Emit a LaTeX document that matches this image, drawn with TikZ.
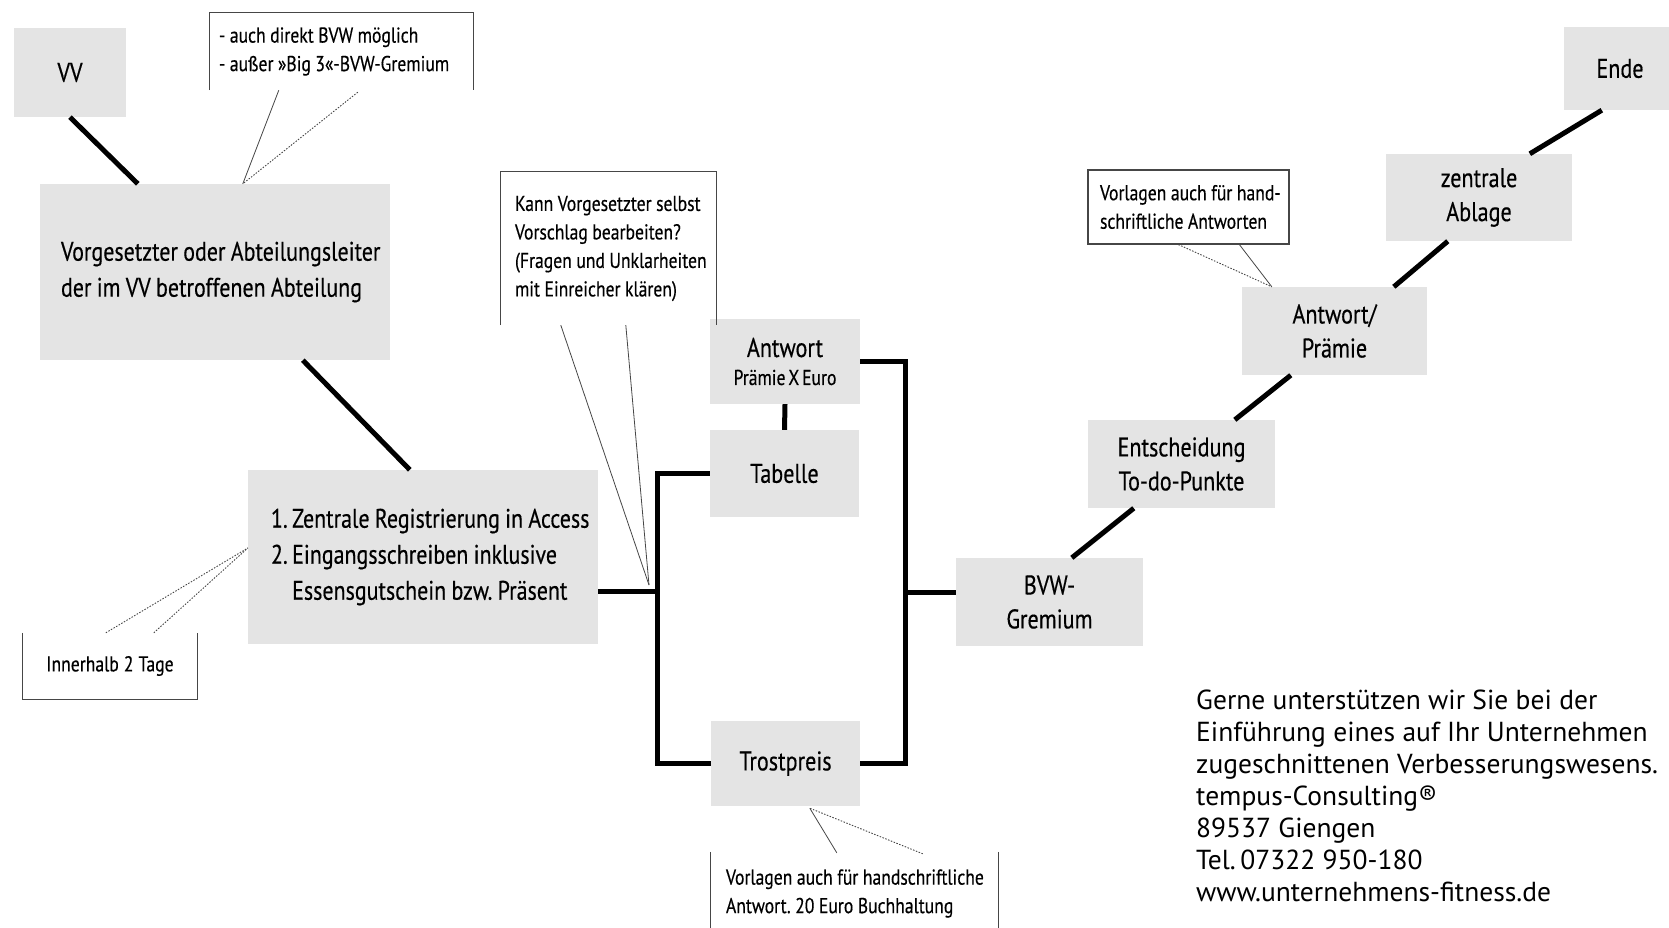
\documentclass[tikz,border=0pt]{standalone}
\usepackage{fontspec}
\setmainfont{PT Sans}
\newfontfamily\condfont[FakeStretch=0.82, WordSpace=0.6, FakeBold=0.4]{PT Sans}
\newcommand{\notespacing}{\frenchspacing\spaceskip=4.5pt plus 1pt minus 1pt\relax}
\newcommand{\stepspacing}{\frenchspacing\spaceskip=5.3pt plus 1pt minus 1pt\relax}
\usetikzlibrary{calc}
\definecolor{boxgray}{RGB}{228,228,228}
\definecolor{inkgray}{RGB}{70,70,70}
\tikzset{
  stepbox/.style={fill=boxgray, draw=none, inner sep=0pt, align=center,
    font=\condfont\fontsize{27}{34}\selectfont, text=black},
  widebox/.style={stepbox, inner xsep=#1, align=left,
    font=\condfont\fontsize{26.8}{36}\selectfont, execute at begin node=\stepspacing},
  note/.style={inner xsep=#1, inner ysep=0pt, align=left,
    font=\condfont\fontsize{21.5}{28.5}\selectfont, text=black,
    execute at begin node=\notespacing},
  noteline/.style={draw=inkgray, line width=1.2pt},
  pointer/.style={draw=inkgray, line width=0.8pt},
  dotpointer/.style={draw=inkgray, line width=0.9pt, dash pattern=on 1.5pt off 1.5pt},
  flow/.style={draw=black, line width=5pt, line join=miter},
}
\begin{document}
\begin{tikzpicture}[x=1pt, y=-1pt]
\useasboundingbox (0,0) rectangle (1669,927);

% process steps
\node[stepbox, minimum width=112, minimum height=89] (vv) at (70,72.5) {VV};
\node[widebox=21pt, minimum width=350, minimum height=176, text width=308pt] (vorg) at (215,272)
  {\mbox{Vorgesetzter oder Abteilungsleiter}\\\mbox{der im VV betroffenen Abteilung}};
\node[widebox=23pt, minimum width=350, minimum height=174, text width=304pt] (reg) at (423,557)
  {\mbox{1.\,Zentrale Registrierung in Access}\\\mbox{2.\,Eingangsschreiben inklusive}\\\mbox{\phantom{2.\,}Essensgutschein bzw. Präsent}};
\node[stepbox, minimum width=150, minimum height=85] (antw) at (785,361.5)
  {Antwort\\[-6pt]{\fontsize{21.5}{26}\selectfont Prämie X Euro}};
\node[stepbox, minimum width=149, minimum height=87] (tab) at (784.5,473.5) {Tabelle};
\node[stepbox, minimum width=149, minimum height=85] (trost) at (785.5,763.5) {Trostpreis};
\node[stepbox, minimum width=187, minimum height=88] (bvw) at (1049.5,602) {BVW-\\Gremium};
\node[stepbox, minimum width=187, minimum height=88] (ent) at (1181.5,464) {Entscheidung\\To-do-Punkte};
\node[stepbox, minimum width=185, minimum height=88] (ap) at (1334.5,331) {Antwort/\\Prämie};
\node[stepbox, minimum width=186, minimum height=87] (za) at (1479,197.5) {zentrale\\Ablage};
\node[stepbox, minimum width=112, minimum height=83] (ende) at (1620,68.5) {Ende};

% connectors between steps
\draw[flow] (vv.south) -- ($(vorg.north west)+(98,0)$);
\draw[flow] ($(vorg.south west)+(263,0)$) -- ($(reg.north west)+(162,0)$);
\coordinate (jl) at (657,591);
\coordinate (jr) at (905,592);
\draw[flow] (reg.east |- jl) -- (jl);
\draw[flow] (tab.west) -| (jl) |- (trost.west);
\draw[flow] (antw.east) -| (jr) |- (trost.east);
\draw[flow] (jr) -- (bvw.west |- jr);
\draw[flow] (antw.south) -- (tab.north);
\draw[flow] ($(bvw.north west)+(116,0)$) -- ($(ent.south west)+(46,0)$);
\draw[flow] ($(ent.north west)+(147,0)$) -- ($(ap.south west)+(49,0)$);
\draw[flow] ($(ap.north west)+(152,0)$) -- ($(za.south west)+(62,0)$);
\draw[flow] ($(za.north west)+(144,0)$) -- ($(ende.south west)+(38,0)$);

% notes (each line kept whole)
\node[note=9pt, text width=245pt, minimum height=77] (n1) at (341.5,51.5)
  {\mbox{- auch direkt BVW möglich}\\\mbox{- außer »Big 3«-BVW-Gremium}};
\draw[noteline] (n1.south west) -- (n1.north west) -- (n1.north east) -- (n1.south east);
\draw[pointer] ($(n1.south west)+(69,0)$) -- ($(vorg.north west)+(203,0)$);
\draw[dotpointer] ($(n1.south west)+(148,2)$) -- ($(vorg.north west)+(203,0)$);

\node[note=14pt, text width=187pt, minimum height=153] (n2) at (608.5,248.5)
  {\mbox{Kann Vorgesetzter selbst}\\\mbox{Vorschlag bearbeiten?}\\\mbox{(Fragen und Unklarheiten}\\\mbox{mit Einreicher klären)}};
\draw[noteline] (n2.south west) -- (n2.north west) -- (n2.north east) -- (n2.south east);
\coordinate (n2tip) at (649,585);
\draw[pointer] ($(n2.south west)+(60,0)$) -- (n2tip);
\draw[pointer] ($(n2.south west)+(125,0)$) -- (n2tip);

\node[note=0pt, align=center, text width=174pt, minimum height=66] (n3) at (110,666) {Innerhalb 2 Tage};
\draw[noteline] (n3.north west) -- (n3.south west) -- (n3.south east) -- (n3.north east);
\draw[dotpointer] ($(n3.north west)+(83,0)$) -- ($(reg.west)+(0,-9)$);
\draw[dotpointer] ($(n3.north west)+(131,0)$) -- ($(reg.west)+(0,-9)$);

\node[note=15pt, text width=257pt, minimum height=83] (n4) at (854.5,893.5)
  {\mbox{Vorlagen auch für handschriftliche}\\\mbox{Antwort. 20 Euro Buchhaltung}};
\draw[noteline] (n4.north west) -- (n4.south west);
\draw[noteline] (n4.north east) -- (n4.south east);
\draw[pointer] ($(n4.north west)+(126,1)$) -- ($(trost.south west)+(99,2)$);
\draw[dotpointer] ($(n4.north west)+(212,2)$) -- ($(trost.south west)+(99,2)$);

\node[note=12pt, text width=177pt, minimum height=74, draw=inkgray, line width=1.2pt] (n5) at (1188.5,207)
  {\mbox{Vorlagen auch für hand-}\\\mbox{schriftliche Antworten}};
\draw[dotpointer] ($(n5.south west)+(91,0)$) -- ($(ap.north west)+(30,0)$);
\draw[pointer] ($(n5.south west)+(152,0)$) -- ($(ap.north west)+(30,0)$);

% contact block
\node[anchor=west, align=left, inner sep=0pt, font=\fontsize{27.5}{32}\selectfont] (info) at (1196,796)
  {Gerne unterstützen wir Sie bei der\\Einführung eines auf Ihr Unternehmen\\zugeschnittenen Verbesserungswesens.\\tempus-Consulting®\\89537 Giengen\\Tel.\,07322 950-180\\www.unternehmens-fitness.de};
\end{tikzpicture}
\end{document}
